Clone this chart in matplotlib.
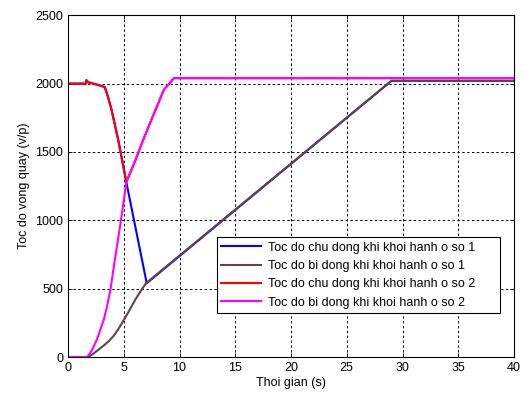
import matplotlib
matplotlib.use("Agg")
import matplotlib.pyplot as plt

plt.rcParams['font.family'] = ['Liberation Sans', 'DejaVu Sans']

# Data (time in s, speed in v/p)
t_blue = [0, 1.6, 1.65, 1.8, 2.5, 3.3, 3.6, 3.9, 4.5, 5.23, 7.06, 29.0, 40]
v_blue = [2000, 2000, 2025, 2010, 1995, 1975, 1900, 1810, 1590, 1280, 540, 2020, 2020]

t_brown = [0, 1.8, 2.2, 2.6, 2.9, 3.3, 3.7, 4.1, 4.6, 5.0, 5.5, 6.0, 6.5, 7.0, 29.0, 40]
v_brown = [0, 0, 20, 45, 65, 90, 120, 155, 215, 270, 340, 415, 480, 540, 2020, 2020]

t_red = [0, 1.6, 1.65, 1.8, 2.5, 3.3, 3.6, 3.9, 4.5, 5.23, 6.0, 6.75, 7.5, 8.6, 9.5, 40]
v_red = [2000, 2000, 2025, 2010, 1995, 1975, 1900, 1810, 1590, 1280, 1430, 1590, 1740, 1955, 2040, 2040]

t_mag = [0, 1.7, 2.0, 2.3, 2.6, 2.9, 3.2, 3.5, 3.8, 4.2, 4.75, 5.23, 6.0, 6.75, 7.5, 8.6, 9.5, 40]
v_mag = [0, 0, 30, 75, 130, 200, 270, 370, 490, 710, 1000, 1280, 1430, 1590, 1740, 1955, 2040, 2040]

labels = ["Toc do chu dong khi khoi hanh o so 1",
          "Toc do bi dong khi khoi hanh o so 1",
          "Toc do chu dong khi khoi hanh o so 2",
          "Toc do bi dong khi khoi hanh o so 2"]
colors = ["#0000ff", "#604545", "#ff0000", "#ff00ff"]

xticks = list(range(0, 41, 5))
yticks = list(range(0, 2501, 500))

fig = plt.figure(figsize=(5.26, 3.94), dpi=100, facecolor='white')
ax = fig.add_axes([68/526, 37/394, 446/526, 341.7/394])

series = [(t_blue, v_blue), (t_brown, v_brown), (t_red, v_red), (t_mag, v_mag)]
for (t, v), c, lab in zip(series, colors, labels):
    ax.plot(t, v, color=c, lw=1.5, label=lab)

ax.set_xlim(0, 40)
ax.set_ylim(0, 2500)
ax.set_xticks(xticks)
ax.set_yticks(yticks)
ax.tick_params(direction='in', labelsize=9, top=True, right=True, length=3, width=0.6)
ax.grid(True, color='black', linestyle=(0, (2.5, 2.5)), linewidth=0.7)
for s in ax.spines.values():
    s.set_linewidth(0.8)

ax.set_xlabel("Thoi gian (s)", fontsize=9, labelpad=2)
ax.set_ylabel("Toc do vong quay (v/p)", fontsize=9, labelpad=4)

leg = ax.legend(loc='lower left', bbox_to_anchor=(0.334, 0.129, 0.635, 0.231),
                mode='expand', fontsize=9, handlelength=3.2, handletextpad=0.5,
                borderaxespad=0, borderpad=0.35, labelspacing=0.5,
                fancybox=False, framealpha=1, edgecolor='black')
leg.get_frame().set_linewidth(0.8)

fig.savefig("out.png", dpi=100, facecolor='white')
